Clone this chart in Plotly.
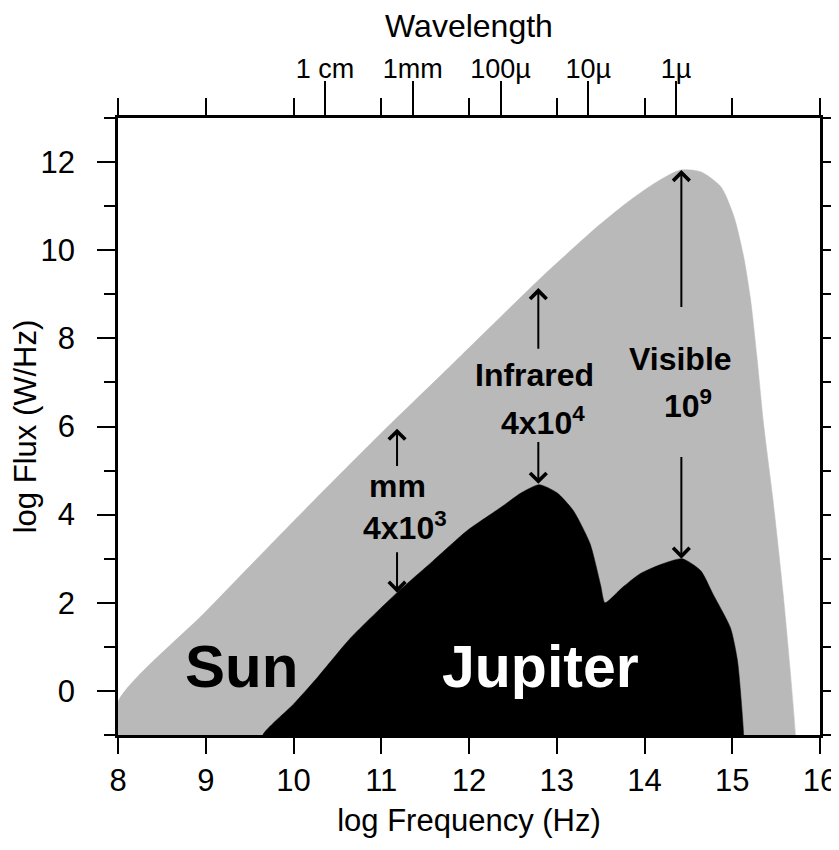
import plotly.graph_objects as go

# ---- data ----
sun_logf = [8.0, 9.0, 10.0, 11.0, 11.7, 12.28, 12.77, 13.08, 13.46, 13.84, 14.14, 14.41, 14.64,
            14.87, 15.02, 15.13, 15.21, 15.28, 15.36, 15.46, 15.58, 15.72]
sun_flux = [-0.25, 1.8, 3.85, 5.85, 7.2, 8.33, 9.28, 9.85, 10.53, 11.14, 11.55, 11.82, 11.78,
            11.44, 10.76, 9.85, 8.86, 7.6, 6.0, 4.4, 2.2, -1.0]

jup_logf = [9.65, 10.0, 10.27, 10.65, 11.18, 11.59, 11.98, 12.36, 12.6, 12.8, 13.0, 13.19, 13.38,
            13.5, 13.55, 13.75, 13.95, 14.2, 14.43, 14.64, 14.78, 14.98, 15.06, 15.13]
jup_flux = [-1.0, -0.3, 0.3, 1.2, 2.23, 2.95, 3.64, 4.16, 4.5, 4.68, 4.5, 4.09, 3.34,
            2.4, 2.0, 2.35, 2.66, 2.88, 3.0, 2.73, 2.2, 1.43, 0.68, -1.0]

wl_pos = [10.36, 11.36, 12.36, 13.36, 14.36]
wl_labels = ["1 cm", "1mm", "100\u00b5", "10\u00b5", "1\u00b5"]

band_names = ["mm", "Infrared", "Visible"]
band_ratio = ["4x10<sup>3</sup>", "4x10<sup>4</sup>", "10<sup>9</sup>"]
band_x = [11.18, 12.79, 14.42]
band_sun_tip = [5.95, 9.14, 11.82]
band_up_tail = [5.07, 7.73, 8.68]
band_down_tail = [3.18, 5.68, 5.34]
band_jup_tip = [2.23, 4.70, 3.0]
name_pos = [(11.18, 4.65), (12.75, 7.18), (14.41, 7.54)]
ratio_pos = [(11.27, 3.75), (12.84, 6.12), (14.50, 6.50)]

BASE = -1.4
FONT = "Liberation Sans, Arial, Helvetica, sans-serif"
GRAY = "#b9b9b9"

fig = go.Figure()
fig.add_trace(go.Scatter(
    x=[sun_logf[0]] + sun_logf + [sun_logf[-1]],
    y=[BASE] + sun_flux + [BASE],
    mode="lines", fill="toself", fillcolor=GRAY,
    line=dict(color=GRAY, width=0.5, shape="spline", smoothing=0.7),
    hoverinfo="skip", showlegend=False))
fig.add_trace(go.Scatter(
    x=[jup_logf[0]] + jup_logf + [jup_logf[-1]],
    y=[BASE] + jup_flux + [BASE],
    mode="lines", fill="toself", fillcolor="black",
    line=dict(color="black", width=0.5, shape="spline", smoothing=0.6),
    hoverinfo="skip", showlegend=False))
# helper trace for top/right axes
fig.add_trace(go.Scatter(x=[8, 16], y=[-1, 13], xaxis="x2", yaxis="y2", mode="markers",
                         marker=dict(opacity=0), hoverinfo="skip", showlegend=False))

ann = []
ann.append(dict(x=9.41, y=0.55, text="<b>Sun</b>", showarrow=False,
                font=dict(size=60, color="black", family=FONT)))
ann.append(dict(x=12.81, y=0.55, text="<b>Jupiter</b>", showarrow=False,
                font=dict(size=59, color="white", family=FONT)))
for i in range(3):
    ann.append(dict(x=name_pos[i][0], y=name_pos[i][1], text="<b>%s</b>" % band_names[i],
                    showarrow=False, font=dict(size=32, color="black", family=FONT)))
    ann.append(dict(x=ratio_pos[i][0], y=ratio_pos[i][1], text="<b>%s</b>" % band_ratio[i],
                    showarrow=False, font=dict(size=32, color="black", family=FONT)))
    for tip, tail in ((band_sun_tip[i], band_up_tail[i]), (band_jup_tip[i], band_down_tail[i])):
        ann.append(dict(x=band_x[i], y=tip, ax=band_x[i], ay=tail, xref="x", yref="y",
                        axref="x", ayref="y", text="", showarrow=True, arrowhead=4,
                        arrowsize=1.6, arrowwidth=2, arrowcolor="black", standoff=0,
                        startstandoff=0))

axis_common = dict(showline=True, linecolor="black", linewidth=2.5, showgrid=False,
                   zeroline=False, ticks="outside", tickcolor="black", tickwidth=2,
                   automargin=False)

# the page body adds an 8 px offset, so the figure is 8 px smaller than the window
fig.update_layout(
    template="none",
    width=831, height=842,
    margin=dict(l=110, r=19, t=110, b=115),
    paper_bgcolor="white", plot_bgcolor="white",
    font=dict(family=FONT, color="black"),
    annotations=ann,
    xaxis=dict(**axis_common, range=[8, 16], tickmode="linear", tick0=8, dtick=1, ticklen=16,
               tickfont=dict(size=31), ticklabelstandoff=0,
               title=dict(text="log Frequency (Hz)", font=dict(size=31), standoff=13)),
    yaxis=dict(**axis_common, range=[-1, 13], tickmode="linear", tick0=0, dtick=2, ticklen=18,
               tickfont=dict(size=31), ticklabelstandoff=16,
               minor=dict(tickmode="linear", tick0=-1, dtick=1, ticklen=11, ticks="outside",
                          tickwidth=2, tickcolor="black"),
               title=dict(text="log Flux (W/Hz)", font=dict(size=31), standoff=0)),
    xaxis2=dict(**axis_common, range=[8, 16], overlaying="x", side="top", anchor="y2",
                tickmode="array", tickvals=wl_pos, ticktext=wl_labels, ticklen=34,
                tickfont=dict(size=27), ticklabelstandoff=-8,
                minor=dict(tickmode="linear", tick0=8, dtick=1, ticklen=17, ticks="outside",
                           tickwidth=2, tickcolor="black"),
                title=dict(text="Wavelength", font=dict(size=32), standoff=14)),
    yaxis2=dict(**axis_common, range=[-1, 13], overlaying="y", side="right", anchor="x2",
                tickmode="linear", tick0=0, dtick=2, ticklen=18, showticklabels=False,
                minor=dict(tickmode="linear", tick0=-1, dtick=1, ticklen=11, ticks="outside",
                           tickwidth=2, tickcolor="black")),
)
fig.write_html("out.html")
